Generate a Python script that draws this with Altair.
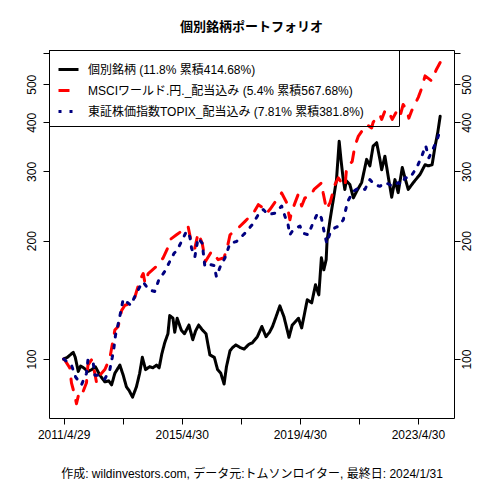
import altair as alt
import pandas as pd

FONT = "Liberation Sans, Noto Sans CJK JP"

series_names = [
    "個別銘柄 (11.8% 累積414.68%)",
    "MSCIワールド.円._配当込み (5.4% 累積567.68%)",
    "東証株価指数TOPIX_配当込み (7.81% 累積381.8%)",
]
series_colors = ["black", "red", "#000080"]
series_dashes = [[1, 0], [11, 11], [3, 8]]

# decimal years
stock_years = [2011.325, 2011.45, 2011.65, 2011.72, 2011.82, 2011.90, 2012.00, 2012.15, 2012.28, 2012.40,
               2012.55, 2012.72, 2012.85, 2012.95, 2013.06, 2013.23, 2013.34, 2013.45, 2013.55, 2013.66,
               2013.79, 2013.90, 2013.99, 2014.10, 2014.24, 2014.35, 2014.47, 2014.56, 2014.65, 2014.75,
               2014.86, 2014.92, 2015.03, 2015.09, 2015.17, 2015.31, 2015.42, 2015.57, 2015.70, 2015.80,
               2015.90, 2016.03, 2016.15, 2016.28, 2016.43, 2016.54, 2016.65, 2016.76, 2016.84, 2016.96,
               2017.05, 2017.16, 2017.30, 2017.44, 2017.60, 2017.72, 2017.89, 2018.04, 2018.18, 2018.30,
               2018.40, 2018.52, 2018.65, 2018.79, 2018.96, 2019.07, 2019.28, 2019.39, 2019.50, 2019.58,
               2019.73, 2019.86, 2019.97, 2020.06, 2020.14, 2020.22, 2020.25, 2020.35, 2020.46, 2020.57,
               2020.66, 2020.72, 2020.79, 2020.85, 2020.90, 2021.02, 2021.14, 2021.25, 2021.42, 2021.59,
               2021.70, 2021.81, 2021.93, 2022.04, 2022.10, 2022.21, 2022.32, 2022.44, 2022.55, 2022.66,
               2022.80, 2022.89, 2023.00, 2023.17, 2023.40, 2023.57, 2023.68, 2023.81, 2023.91, 2024.00,
               2024.083]
stock_values = [100, 101, 104, 101, 93, 96, 95, 93, 94, 95.6,
                91, 87.5, 88, 86, 92, 96.5, 91, 85, 83, 80,
                85, 92, 101, 94, 95.6, 95, 96.5, 95, 103, 110,
                116, 129, 127, 117, 127, 118.5, 116, 122, 112, 118,
                122, 118.5, 116, 102.4, 101, 94, 92, 86.4, 95.6, 105,
                107, 108.6, 107, 106, 109, 110, 114, 121, 114, 117,
                121, 128, 136.5, 128, 113.6, 122, 127, 120, 132, 141.5,
                139, 154.5, 145.6, 181, 168.6, 179, 200, 226, 254, 286,
                358, 322, 289, 270, 284, 278, 257, 267, 281, 322,
                310, 348, 355, 322, 303, 328, 292, 258, 286, 265,
                307, 289, 270, 281, 295, 312, 310, 312, 348, 377,
                414.68]

msci_years = [2011.325, 2011.36, 2011.53, 2011.59, 2011.70, 2011.76, 2011.87, 2011.98, 2012.10, 2012.15,
              2012.27, 2012.38, 2012.44, 2012.55, 2012.72, 2012.89, 2013.06, 2013.17, 2013.29, 2013.40,
              2013.62, 2013.74, 2013.91, 2014.02, 2014.08, 2014.19, 2014.47, 2014.70, 2014.87, 2014.92,
              2015.15, 2015.32, 2015.54, 2015.66, 2015.77, 2015.88, 2016.02, 2016.13, 2016.34, 2016.56,
              2016.76, 2016.90, 2016.96, 2017.24, 2017.47, 2017.75, 2017.92, 2018.09, 2018.20, 2018.31,
              2018.54, 2018.71, 2018.88, 2018.99, 2019.05, 2019.27, 2019.39, 2019.50, 2019.67, 2019.81,
              2020.07, 2020.12, 2020.23, 2020.35, 2020.52, 2020.63, 2020.74, 2020.86, 2020.91, 2021.10,
              2021.19, 2021.31, 2021.59, 2021.76, 2021.81, 2021.93, 2022.04, 2022.10, 2022.23, 2022.38,
              2022.46, 2022.61, 2022.72, 2022.83, 2022.95, 2023.02, 2023.11, 2023.34, 2023.45, 2023.57,
              2023.79, 2023.96, 2024.083]
msci_values = [100, 99.5, 95, 87, 81, 77, 83.4, 82.5, 87, 96.5,
               99.5, 92, 87, 91, 94, 100.4, 118.5, 121, 133, 137,
               138.7, 144, 159, 165, 156, 165, 172, 181, 193, 201,
               207, 211.5, 217.5, 197, 191.5, 209, 197, 177, 188, 179,
               181, 197, 207, 215.5, 224, 235, 247, 242, 235, 240,
               254, 264.5, 250, 226, 237, 262, 245, 257, 259, 270,
               281, 264.5, 240, 250, 278, 289, 281, 275, 307, 318,
               348, 369, 395, 387, 400, 412, 418, 407, 431, 419,
               407, 427, 414, 444, 431, 410, 427, 463, 487, 525,
               510, 546, 567.68]

topix_years = [2011.325, 2011.59, 2011.73, 2011.93, 2012.10, 2012.15, 2012.32, 2012.38, 2012.49, 2012.72,
               2012.89, 2012.97, 2013.03, 2013.08, 2013.19, 2013.26, 2013.34, 2013.60, 2013.71, 2013.91,
               2014.02, 2014.21, 2014.41, 2014.55, 2014.75, 2014.92, 2015.07, 2015.15, 2015.32, 2015.49,
               2015.60, 2015.66, 2015.77, 2015.88, 2016.02, 2016.11, 2016.28, 2016.42, 2016.50, 2016.62,
               2016.79, 2016.96, 2017.18, 2017.47, 2017.71, 2017.92, 2018.09, 2018.26, 2018.48, 2018.71,
               2018.82, 2018.93, 2018.99, 2019.10, 2019.33, 2019.44, 2019.61, 2019.75, 2019.93, 2020.06,
               2020.15, 2020.24, 2020.35, 2020.52, 2020.63, 2020.80, 2020.95, 2021.14, 2021.31, 2021.53,
               2021.70, 2021.85, 2022.04, 2022.23, 2022.49, 2022.66, 2022.78, 2022.89, 2023.06, 2023.29,
               2023.46, 2023.59, 2023.70, 2023.83, 2023.96, 2024.083]
topix_values = [100, 96.5, 90, 86, 92, 99.5, 98.5, 91, 91, 89,
                94, 101, 107, 115, 124.5, 132, 142, 137, 143, 153,
                157, 150, 148.5, 159, 167, 177, 186, 188, 199, 211.5,
                205, 191.5, 182, 203, 197, 172, 174, 173, 162, 171,
                181, 197, 199, 209, 219.5, 233, 240, 233, 235, 245,
                231, 219.5, 207, 213, 218, 209, 207, 219.5, 235, 228.5,
                211, 197, 209, 216, 217.5, 226, 252, 267, 272, 270,
                286, 278, 275, 281, 275, 281, 278, 289, 289, 307,
                328, 349, 325, 341, 358, 381.8]

y_ticks = [100, 200, 300, 400, 500, 600]
footer_text = "作成: wildinvestors.com, データ元:トムソンロイター, 最終日: 2024/1/31"
title_text = "個別銘柄ポートフォリオ"


def year_to_date(y):
    yr = int(y)
    start = pd.Timestamp(year=yr, month=1, day=1)
    end = pd.Timestamp(year=yr + 1, month=1, day=1)
    return (start + (end - start) * (y - yr)).strftime("%Y-%m-%d")


frames = []
for name, ys, vs in zip(series_names, [stock_years, msci_years, topix_years],
                        [stock_values, msci_values, topix_values]):
    frames.append(pd.DataFrame({"date": [year_to_date(v) for v in ys], "value": vs, "series": name}))
df = pd.concat(frames, ignore_index=True)

x_enc = alt.X(
    "date:T",
    scale=alt.Scale(type="utc", domain=[alt.DateTime(year=2010, month=10, date=30, utc=True),
                                        alt.DateTime(year=2024, month=7, date=20, utc=True)]),
    axis=alt.Axis(
        values=[alt.DateTime(year=y, month=4, date=(29 if y == 2011 else 30), utc=True)
                for y in [2011, 2013, 2015, 2017, 2019, 2021, 2023]],
        labelExpr="(utcyear(datum.value) - 2011) % 4 == 0 ? utcFormat(datum.value, '%Y/%-m/%-d') : ''",
        labelOverlap=False, labelFlush=False, labelPadding=5,
        title=footer_text, titlePadding=28, titleFontWeight="normal",
    ),
)

y_scale = alt.Scale(type="log", domain=[70.8, 611], nice=False)

legend = alt.Legend(
    title=None, orient="top-left", offset=0, strokeColor="black", padding=8,
    symbolType="stroke", symbolSize=400, symbolStrokeWidth=3,
    labelFont=FONT, labelFontSize=12, labelColor="black", labelOffset=8, labelLimit=500,
    labelExpr="datum.label + '\u2003\u2003\u2005\u200d'",
    rowPadding=3,
)
color_enc = alt.Color("series:N", scale=alt.Scale(domain=series_names, range=series_colors), legend=legend)
dash_enc = alt.StrokeDash("series:N", scale=alt.Scale(domain=series_names, range=series_dashes), legend=legend)


def layer(idx, axis):
    return alt.Chart(df).transform_filter(
        alt.datum.series == series_names[idx]
    ).mark_line(strokeWidth=3, strokeCap="round", strokeJoin="round").encode(
        x=x_enc,
        y=alt.Y("value:Q", scale=y_scale, axis=axis),
        color=color_enc,
        strokeDash=dash_enc,
    )


left_axis = alt.Axis(orient="left", values=y_ticks, format="d",
                     labelExpr="datum.value == 600 ? '' : datum.label",
                     labelAngle=270, labelAlign="center", labelBaseline="alphabetic", labelPadding=8,
                     title=None)
right_axis = alt.Axis(orient="right", values=y_ticks, format="d",
                      labelExpr="datum.value == 600 ? '' : datum.label",
                      labelAngle=270, labelAlign="center", labelBaseline="top", labelPadding=1,
                      title=None)

chart = alt.layer(
    layer(0, left_axis),
    layer(1, None),
    layer(2, right_axis),
).resolve_scale(y="independent").properties(
    width=405, height=368,
    padding={"left": 41, "top": 42, "right": 18, "bottom": 66},
    autosize=alt.AutoSizeParams(type="none"),
    title=alt.Title(title_text, fontSize=13, fontWeight="bold", font=FONT, color="black",
                    anchor="middle", frame="group", offset=16),
).configure_view(
    stroke="black", strokeWidth=1
).configure_axis(
    labelFont=FONT, labelFontSize=12, labelColor="black",
    titleFont=FONT, titleFontSize=12, titleColor="black",
    tickColor="black", tickSize=6, tickWidth=1, domain=False, grid=False,
)

chart.save("out.html", embed_options={"renderer": "svg", "actions": False})
